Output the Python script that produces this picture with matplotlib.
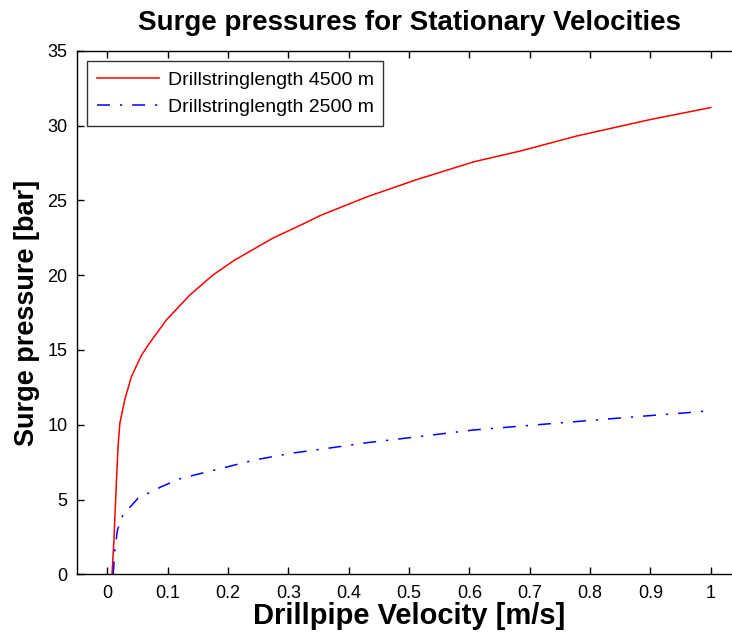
import matplotlib
matplotlib.use("Agg")
import matplotlib.pyplot as plt

plt.rcParams['font.family'] = ['Liberation Sans', 'DejaVu Sans']

# Drillstring 4500 m
vel_4500 = [0.008, 0.0115, 0.0126, 0.0154, 0.018, 0.021, 0.029, 0.040, 0.057, 0.070,
            0.098, 0.137, 0.175, 0.211, 0.274, 0.321, 0.354, 0.431, 0.514, 0.608,
            0.685, 0.778, 0.900, 1.0]
surge_4500 = [0.0, 2.5, 3.7, 6.3, 8.5, 10.1, 11.65, 13.2, 14.66, 15.44,
              17.0, 18.67, 20.0, 21.0, 22.46, 23.35, 24.0, 25.24, 26.4, 27.58,
              28.3, 29.3, 30.4, 31.2]

# Drillstring 2500 m
vel_2500 = [0.010, 0.0126, 0.017, 0.021, 0.026, 0.051, 0.090, 0.123, 0.189, 0.244,
            0.305, 0.365, 0.431, 0.486, 0.608, 0.729, 0.850, 0.982, 1.0]
surge_2500 = [0.0, 1.6, 2.96, 3.4, 3.96, 5.08, 5.86, 6.42, 7.08, 7.64,
              8.09, 8.42, 8.80, 9.06, 9.65, 10.05, 10.45, 10.87, 10.95]

labels = ['Drillstringlength 4500 m', 'Drillstringlength 2500 m']
xticks = [0, 0.1, 0.2, 0.3, 0.4, 0.5, 0.6, 0.7, 0.8, 0.9, 1]
xticklabels = ['0', '0.1', '0.2', '0.3', '0.4', '0.5', '0.6', '0.7', '0.8', '0.9', '1']
yticks = [0, 5, 10, 15, 20, 25, 30, 35]

W, H = 732, 637
fig = plt.figure(figsize=(W / 100, H / 100), dpi=100)
left, right, bottom, top = 77, 741, 574.3, 50.7
ax = fig.add_axes([left / W, (H - bottom) / H, (right - left) / W, (bottom - top) / H])

ax.plot(vel_4500, surge_4500, color='#ff0000', lw=1.1, label=labels[0])
ax.plot(vel_2500, surge_2500, color='#0000ff', lw=1.1,
        linestyle=(0, (8.5, 6.5, 1.5, 6.5)), label=labels[1])

ax.set_xlim(-0.05, 1.05)
ax.set_ylim(0, 35)
ax.set_xticks(xticks)
ax.set_xticklabels(xticklabels)
ax.set_yticks(yticks)
ax.tick_params(direction='in', length=5, width=1, top=True, right=True,
               labelsize=13, colors='black')
ax.tick_params(axis='x', pad=8)
ax.tick_params(axis='y', pad=7)
for s in ax.spines.values():
    s.set_linewidth(1.0)

ax.set_title('Surge pressures for Stationary Velocities', fontsize=20,
             fontweight='bold', pad=15)
ax.set_xlabel('Drillpipe Velocity [m/s]', fontsize=21, fontweight='bold', labelpad=0)
ax.set_ylabel('Surge pressure [bar]', fontsize=19.5, fontweight='bold', labelpad=5)

leg = ax.legend(loc='upper left', fontsize=14, frameon=True, fancybox=False,
                edgecolor='black', borderpad=0.5, handlelength=3.2,
                labelspacing=0.5, handletextpad=0.45,
                bbox_to_anchor=(0.015, 0.98), borderaxespad=0.0)
leg.get_frame().set_linewidth(1.0)

fig.savefig('out.png', dpi=100)
